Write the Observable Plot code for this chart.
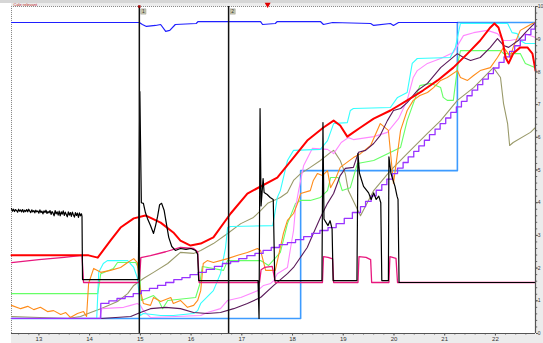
<!DOCTYPE html>
<html><head><meta charset="utf-8">
<script src="https://cdn.jsdelivr.net/npm/d3@7"></script>
<script src="https://cdn.jsdelivr.net/npm/@observablehq/plot@0.6"></script>
<style>
html,body{margin:0;padding:0;background:#fff;}
#chart{width:543px;height:343px;position:relative;overflow:hidden;
  background:
    linear-gradient(#d6d6d6,#d6d6d6) 0 0/100% 3px no-repeat,
    linear-gradient(to right,#fff 11px,#ececec 11px);}
#chart svg{display:block;}
</style></head><body><div id="chart"></div>
<script>
// time axis (hours) and level axis
const xDomain = [12.46, 22.79];
const xTicks = [13, 14, 15, 16, 17, 18, 19, 20, 21, 22];
const yTicks = [0, 1, 2, 3, 4, 5, 6, 7, 8, 9, 10];
const cursors = [14.98, 16.74];
const cursorLabels = ["1", "2"];
const marker = [17.51];
const headerText = ["Cale relevant"];

// [time, value] readings per channel
const darkBlue = [[12.46,9.51],[14.98,9.51],[15.04,9.45],[15.12,9.39],[15.30,9.42],[15.40,9.45],[15.50,9.24],[15.58,9.27],[15.69,9.45],[16.10,9.48],[16.14,9.54],[17.37,9.54],[17.41,9.45],[17.66,9.48],[17.70,9.54],[18.55,9.54],[18.61,9.45],[18.79,9.51],[19.54,9.48],[19.60,9.42],[19.93,9.48],[19.99,9.42],[20.09,9.51],[21.25,9.51]];
const lightBlue = [[12.46,0.46],[18.16,0.46],[18.16,4.98],[21.25,4.98],[21.25,9.51],[22.79,9.51]];
const red = [[12.46,2.39],[13.98,2.39],[14.16,2.32],[14.41,2.84],[14.61,3.24],[14.87,3.52],[15.10,3.61],[15.40,3.39],[15.65,3.09],[15.79,2.84],[15.99,2.69],[16.19,2.75],[16.44,2.94],[16.78,3.67],[17.11,4.28],[17.70,4.77],[18.02,5.38],[18.29,5.90],[18.61,6.30],[18.81,6.51],[18.94,6.36],[19.08,6.02],[19.20,6.15],[19.34,6.30],[19.60,6.57],[19.93,6.82],[20.26,7.13],[20.57,7.43],[20.86,7.74],[21.17,8.13],[21.45,8.56],[21.70,8.96],[21.90,9.36],[21.98,9.48],[22.06,9.36],[22.14,8.96],[22.20,8.44],[22.26,8.26],[22.35,8.56],[22.49,8.75],[22.63,8.75],[22.73,8.56],[22.79,8.04]];
const crimson = [[12.46,2.17],[13.00,2.26],[13.50,2.33],[13.85,2.39],[13.88,1.56],[14.98,1.56],[15.01,2.32],[15.20,2.38],[15.50,2.50],[15.79,2.63],[16.05,2.60],[16.13,2.50],[16.16,1.56],[17.35,1.56],[17.38,1.95],[17.45,2.02],[17.60,2.05],[17.66,1.56],[18.59,1.56],[18.61,2.35],[18.70,2.33],[18.79,2.28],[18.81,1.56],[19.29,1.56],[19.31,2.35],[19.45,2.33],[19.54,2.26],[19.56,1.56],[19.90,1.56],[19.92,2.35],[20.04,2.30],[20.07,1.56],[22.79,1.56]];
const black = [[12.46,3.82],[12.48,3.74],[12.50,3.80],[12.52,3.73],[12.54,3.79],[12.56,3.76],[12.58,3.71],[12.60,3.80],[12.62,3.74],[12.64,3.78],[12.66,3.72],[12.68,3.79],[12.70,3.71],[12.72,3.77],[12.74,3.73],[12.76,3.79],[12.78,3.72],[12.80,3.80],[12.82,3.74],[12.84,3.70],[12.86,3.78],[12.88,3.72],[12.90,3.76],[12.92,3.69],[12.94,3.77],[12.96,3.72],[12.98,3.75],[13.00,3.68],[13.02,3.78],[13.04,3.70],[13.06,3.74],[13.08,3.66],[13.10,3.75],[13.12,3.70],[13.14,3.77],[13.16,3.67],[13.18,3.73],[13.20,3.69],[13.22,3.76],[13.24,3.64],[13.26,3.73],[13.28,3.68],[13.30,3.60],[13.32,3.76],[13.34,3.66],[13.36,3.72],[13.38,3.62],[13.40,3.74],[13.42,3.60],[13.44,3.72],[13.46,3.65],[13.48,3.75],[13.50,3.61],[13.52,3.71],[13.54,3.64],[13.56,3.57],[13.58,3.72],[13.60,3.62],[13.62,3.70],[13.64,3.58],[13.66,3.71],[13.68,3.63],[13.70,3.56],[13.72,3.70],[13.74,3.61],[13.76,3.68],[13.78,3.55],[13.80,3.69],[13.82,3.60],[13.84,3.66],[13.85,3.58],[13.86,1.65],[14.96,1.65],[14.99,7.40],[15.02,4.00],[15.06,3.98],[15.10,3.70],[15.14,3.52],[15.20,3.30],[15.26,3.06],[15.30,3.30],[15.34,3.58],[15.38,3.94],[15.42,3.98],[15.47,3.76],[15.52,3.30],[15.56,2.94],[15.62,2.66],[15.69,2.54],[15.79,2.60],[15.90,2.57],[16.00,2.60],[16.09,2.54],[16.13,2.42],[16.15,1.62],[17.32,1.62],[17.34,0.46],[17.36,6.88],[17.38,3.90],[17.42,4.74],[17.44,4.31],[17.50,4.25],[17.56,4.16],[17.62,4.10],[17.65,1.62],[18.58,1.62],[18.60,6.45],[18.62,3.50],[18.66,3.40],[18.70,3.30],[18.74,3.45],[18.78,3.20],[18.80,1.62],[19.27,1.62],[19.29,5.50],[19.32,4.90],[19.36,4.70],[19.40,4.50],[19.45,4.40],[19.50,4.30],[19.55,4.10],[19.60,4.30],[19.65,4.10],[19.70,4.20],[19.74,4.00],[19.76,1.62],[19.89,1.62],[19.90,5.40],[19.94,4.90],[19.98,4.70],[20.02,4.50],[20.06,4.20],[20.08,4.10],[20.10,1.56],[22.79,1.56]];
const cyan = [[12.46,0.46],[14.14,0.46],[14.18,1.87],[14.27,2.14],[14.35,2.23],[14.75,2.23],[14.87,2.02],[14.94,1.71],[14.98,1.16],[15.00,0.55],[15.06,0.61],[15.40,0.55],[15.65,0.55],[16.05,0.61],[16.13,0.70],[16.19,0.92],[16.44,1.31],[16.58,1.83],[16.68,2.63],[16.72,3.24],[16.78,3.27],[17.61,3.30],[17.66,3.76],[17.70,4.16],[17.76,4.37],[17.90,5.29],[18.02,5.60],[18.55,5.63],[18.69,5.90],[18.81,6.42],[19.08,6.45],[19.14,6.82],[19.20,6.88],[19.93,6.91],[20.07,7.22],[20.26,7.37],[20.36,8.26],[20.46,8.41],[21.11,8.44],[21.21,8.75],[21.31,9.48],[22.24,9.48],[22.33,9.20],[22.43,9.17],[22.49,8.96],[22.59,8.87],[22.79,8.87]];
const lightPink = [[12.46,0.46],[14.20,0.46],[14.24,0.76],[14.67,0.80],[14.81,0.86],[14.94,0.92],[15.00,0.86],[15.06,0.70],[15.20,0.49],[16.19,0.55],[16.32,0.64],[16.58,0.76],[16.72,1.01],[16.98,1.10],[17.31,1.31],[17.43,1.47],[17.57,1.53],[17.63,1.62],[17.70,1.83],[17.90,2.02],[17.96,2.60],[18.02,3.15],[18.06,3.85],[18.12,4.37],[18.22,5.14],[18.39,5.66],[18.69,5.63],[18.81,5.50],[18.96,5.84],[19.10,5.99],[19.20,5.93],[19.60,6.02],[19.87,6.15],[20.09,6.57],[20.26,7.13],[20.38,7.83],[20.46,8.04],[20.66,8.26],[20.92,8.41],[21.17,8.59],[21.37,9.11],[21.57,9.20],[21.84,9.27],[22.04,9.17],[22.16,8.96],[22.29,8.96],[22.49,9.02],[22.59,9.17],[22.79,9.05]];
const green = [[12.46,1.22],[14.16,1.22],[14.22,1.83],[14.47,1.99],[14.55,2.17],[14.91,2.17],[14.98,1.93],[15.02,1.01],[15.26,1.16],[15.36,1.01],[15.44,0.76],[15.54,1.01],[16.09,1.10],[16.17,1.50],[16.22,2.05],[16.64,1.93],[16.72,2.23],[17.37,2.23],[17.53,2.08],[17.76,2.48],[17.90,3.36],[18.06,3.98],[18.16,4.07],[18.35,4.07],[18.55,4.16],[18.69,4.37],[18.75,4.77],[18.90,4.77],[18.98,4.37],[19.14,4.46],[19.28,5.20],[19.60,5.29],[20.13,5.69],[20.26,6.51],[20.38,7.03],[20.51,7.58],[20.72,7.65],[20.92,7.52],[20.97,7.22],[21.05,7.13],[21.17,7.13],[21.27,8.35],[21.31,8.65],[22.10,8.65],[22.16,8.56],[22.49,8.56],[22.59,8.26],[22.79,8.13]];
const orange = [[12.46,0.86],[12.64,0.76],[12.78,0.83],[12.90,0.73],[13.03,0.80],[13.17,0.67],[13.29,0.70],[13.43,0.58],[13.53,0.64],[13.62,0.49],[13.76,0.61],[13.88,0.67],[13.94,0.52],[13.98,1.53],[14.08,1.99],[14.22,1.87],[14.41,1.93],[14.61,2.02],[14.75,2.17],[14.87,2.29],[14.94,2.17],[15.00,1.31],[15.06,0.92],[15.20,0.86],[15.26,1.10],[15.40,0.98],[15.60,1.10],[15.65,0.92],[15.79,1.01],[15.93,0.80],[16.05,0.86],[16.13,1.01],[16.19,1.31],[16.24,2.14],[16.32,2.23],[16.44,2.17],[16.72,2.29],[16.92,2.39],[17.11,2.48],[17.31,2.60],[17.37,2.54],[17.47,1.93],[17.66,1.93],[17.76,2.63],[17.82,3.06],[17.90,3.46],[18.02,3.67],[18.10,3.98],[18.16,4.28],[18.35,4.37],[18.41,4.68],[18.49,4.89],[18.59,4.83],[18.69,4.98],[18.75,4.46],[18.85,4.74],[18.94,5.08],[19.20,5.38],[19.34,5.50],[19.54,5.75],[19.73,6.42],[19.89,6.21],[19.99,4.59],[20.13,6.21],[20.26,6.82],[20.38,7.13],[20.51,7.28],[20.66,7.37],[20.78,7.52],[20.92,7.74],[21.05,7.83],[21.25,8.04],[21.31,7.83],[21.45,7.74],[21.57,7.89],[21.70,8.04],[21.90,8.13],[22.04,8.44],[22.16,8.75],[22.24,8.59],[22.29,8.44],[22.35,8.75],[22.49,9.27],[22.59,9.36],[22.73,9.48],[22.79,9.51]];
const olive = [[12.46,0.52],[13.57,0.46],[13.82,0.52],[14.02,0.64],[14.22,0.76],[14.55,0.98],[14.75,1.22],[14.87,1.47],[15.06,1.68],[15.26,1.87],[15.54,2.14],[15.79,2.48],[16.05,2.45],[16.19,2.54],[16.44,2.75],[16.72,3.06],[16.98,3.36],[17.23,3.55],[17.37,3.76],[17.51,3.98],[17.63,4.07],[17.76,4.16],[17.90,4.31],[18.02,4.68],[18.16,4.89],[18.35,5.08],[18.55,5.29],[18.75,5.54],[18.81,5.60],[18.94,5.29],[19.04,4.89],[19.10,4.37],[19.34,3.60],[19.60,4.37],[19.93,4.98],[20.26,5.50],[20.66,6.12],[20.92,6.51],[21.25,7.13],[21.57,7.52],[21.90,8.04],[21.96,8.13],[22.10,7.83],[22.16,7.03],[22.24,6.42],[22.28,5.75],[22.35,5.84],[22.69,6.15],[22.79,6.30]];
const darkPurple = [[12.46,0.46],[14.22,0.46],[14.81,0.52],[15.00,0.64],[15.20,0.76],[15.50,0.80],[15.79,0.76],[16.05,0.64],[16.32,0.61],[16.58,0.64],[16.84,0.76],[17.11,0.92],[17.37,1.10],[17.63,1.47],[17.90,1.83],[18.02,2.02],[18.29,2.63],[18.41,3.06],[18.55,3.55],[18.69,3.98],[18.81,4.28],[18.94,4.83],[19.04,5.05],[19.20,5.08],[19.30,5.54],[19.44,5.60],[19.60,5.81],[19.73,6.06],[19.87,6.51],[19.99,6.82],[20.13,6.88],[20.26,7.06],[20.46,7.43],[20.66,7.65],[20.92,8.13],[21.25,8.56],[21.37,8.44],[21.51,8.35],[21.70,8.44],[21.90,8.75],[22.04,9.02],[22.16,8.81],[22.26,8.75],[22.45,8.96],[22.59,9.20],[22.73,9.42],[22.79,9.51]];
const violet = [[12.46,0.46],[14.22,0.92],[14.38,1.00],[14.54,1.07],[14.70,1.13],[14.86,1.22],[15.02,1.31],[15.18,1.38],[15.34,1.47],[15.50,1.56],[15.66,1.65],[15.82,1.71],[15.98,1.80],[16.14,1.87],[16.30,1.96],[16.46,2.05],[16.62,2.14],[16.78,2.20],[16.94,2.29],[17.10,2.38],[17.26,2.45],[17.42,2.54],[17.58,2.63],[17.74,2.72],[17.90,2.78],[18.06,2.87],[18.22,2.96],[18.38,3.06],[18.54,3.15],[18.70,3.24],[18.86,3.36],[19.02,3.52],[19.18,3.70],[19.34,3.88],[19.44,4.04],[19.55,4.21],[19.65,4.38],[19.76,4.55],[19.86,4.72],[19.97,4.89],[20.07,5.06],[20.18,5.23],[20.28,5.40],[20.39,5.57],[20.49,5.74],[20.60,5.91],[20.70,6.08],[20.81,6.25],[20.91,6.42],[21.02,6.59],[21.12,6.76],[21.23,6.93],[21.33,7.10],[21.44,7.27],[21.54,7.44],[21.65,7.61],[21.75,7.78],[21.86,7.95],[21.96,8.12],[22.07,8.29],[22.17,8.46],[22.28,8.63],[22.38,8.80],[22.49,8.97],[22.59,9.14],[22.70,9.31],[22.78,9.48],[22.79,9.48]];

// drawing order and stroke styles of the channels
const channels = [
  {data: lightBlue, stroke: "#3d9bff", width: 1.6, curve: "linear"},
  {data: darkBlue, stroke: "#1f1fff", width: 1.2, curve: "linear"},
  {data: olive, stroke: "#9a9a6a", width: 1.1, curve: "linear"},
  {data: green, stroke: "#66ff66", width: 1.1, curve: "linear"},
  {data: lightPink, stroke: "#ff88ff", width: 1.1, curve: "linear"},
  {data: cyan, stroke: "#33ffff", width: 1.1, curve: "linear"},
  {data: orange, stroke: "#ff8c1a", width: 1.1, curve: "linear"},
  {data: darkPurple, stroke: "#5a1a5a", width: 1.1, curve: "linear"},
  {data: violet, stroke: "#9933ff", width: 1.3, curve: "step-after"},
  {data: crimson, stroke: "#e8177d", width: 1.3, curve: "linear"},
  {data: red, stroke: "#ff0000", width: 2, curve: "linear"},
  {data: black, stroke: "#000000", width: 1.2, curve: "linear"}
];

const xMinor = d3.range(12.6, 22.79, 0.2);
const yMinor = d3.range(0, 10.01, 0.2);

const chart = Plot.plot({
  width: 543,
  height: 343,
  marginLeft: 11,
  marginRight: 8,
  marginTop: 6,
  marginBottom: 10,
  style: {background: "transparent", fontFamily: "Liberation Sans, Arial, sans-serif", fontSize: "6px", color: "#333"},
  x: {domain: xDomain, label: null},
  y: {domain: [0, 10], label: null},
  marks: [
    Plot.frame({fill: "white", stroke: null}),
    Plot.ruleY([10], {stroke: "#8a8a8a", strokeDasharray: "1,1"}),
    Plot.ruleX([xDomain[0]], {stroke: "#8a8a8a", strokeDasharray: "1,1"}),
    Plot.axisX({ticks: xMinor, tickSize: 1.5, tickFormat: () => "", stroke: "#666"}),
    Plot.axisX({ticks: xTicks, tickSize: 2.5, tickPadding: 1, fontSize: 6, stroke: "#555", fill: "#333", label: null}),
    Plot.axisY({anchor: "right", ticks: yMinor, tickSize: 1.2, tickFormat: () => "", stroke: "#666"}),
    Plot.axisY({anchor: "right", ticks: yTicks, tickSize: 1.8, tickPadding: 0.5, fontSize: 5, stroke: "#555", fill: "#333", label: null}),
    ...channels.map(c => Plot.line(c.data, {x: d => d[0], y: d => d[1], stroke: c.stroke, strokeWidth: c.width, curve: c.curve})),
    Plot.ruleY([0], {stroke: "#555", strokeWidth: 1.2}),
    Plot.ruleX([xDomain[1]], {stroke: "#555", strokeWidth: 1.2}),
    Plot.ruleX(cursors, {stroke: "#111", strokeWidth: 1.5}),
    Plot.dot(cursors, {x: d => d, y: 10, symbol: "square", r: 3, fill: "#c9c9ad", stroke: "#999", strokeWidth: 0.5, dx: 4, dy: 5}),
    Plot.text(cursors, {x: d => d, y: 10, text: (d, i) => cursorLabels[i], dx: 4, dy: 5, fontSize: 5, fill: "#333"}),
    Plot.dot([cursors[0]], {x: d => d, y: 10, symbol: "square", r: 1.4, fill: "#a00000"}),
    Plot.dot(marker, {x: d => d, y: 10, symbol: "triangle", rotate: 180, r: 2.2, fill: "#e00000", dy: -2}),
    Plot.text(headerText, {frameAnchor: "top-left", dx: 2, dy: -1, lineAnchor: "bottom", fontSize: 4, fill: "#c02020"})
  ]
});
document.getElementById("chart").appendChild(chart);
</script></body></html>
